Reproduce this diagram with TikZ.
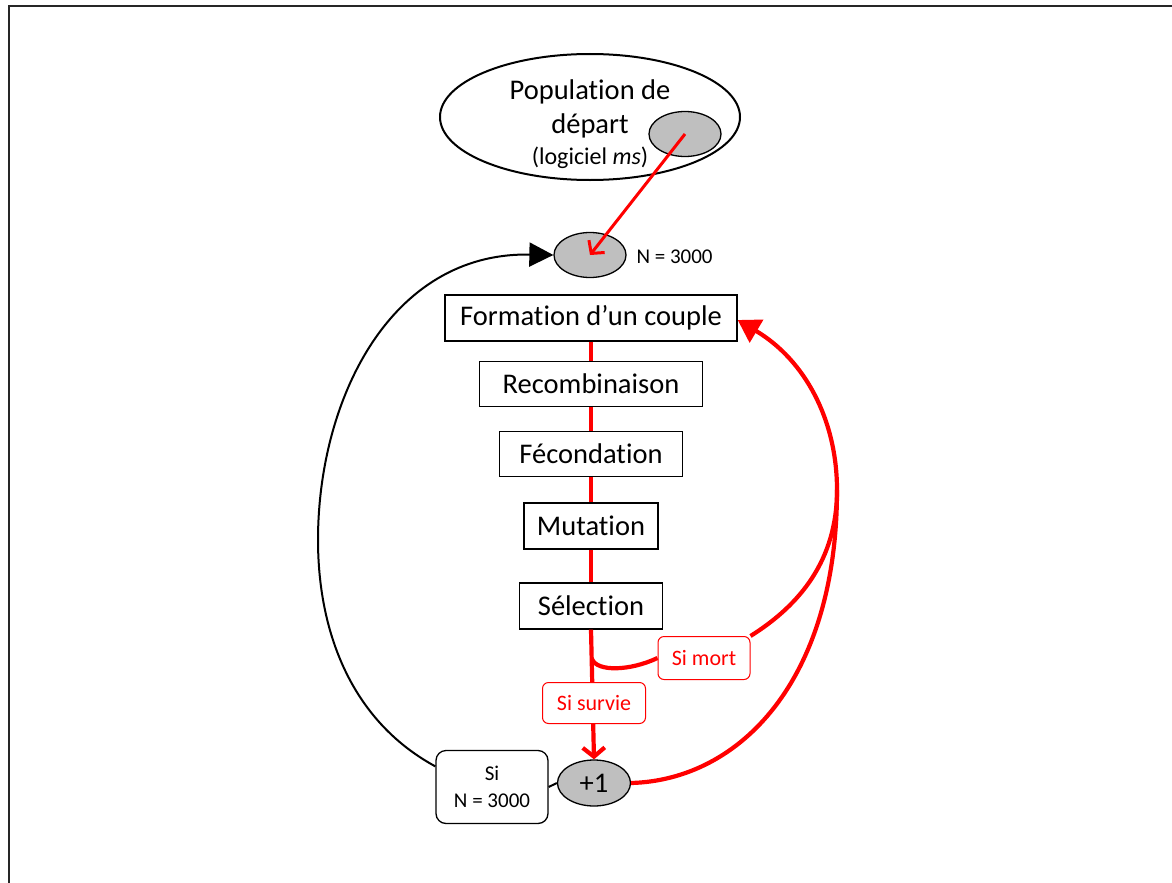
\documentclass[tikz,border=0pt]{standalone}
\usepackage{fontspec}
\setmainfont{Carlito}[RawFeature={-liga;-clig;-calt;-rlig;-dlig}]
\usetikzlibrary{arrows.meta,shapes.geometric,calc}
\begin{document}
\begin{tikzpicture}[x=1pt,y=-1pt,
  stepbox/.style={draw=black, line width=1.3pt, fill=white, inner sep=0pt, font=\fontsize{28.5}{32}\selectfont},
  greyell/.style={ellipse, draw=black, line width=1.3pt, fill=black!25, inner sep=0pt, minimum width=72pt, minimum height=45pt},
  redlab/.style={draw=red, line width=1pt, fill=white, rounded corners=6pt, text=red, inner sep=0pt, font=\fontsize{22}{26}\selectfont},
  redflow/.style={draw=red, line width=4.2pt},
  blackflow/.style={draw=black, line width=2pt}
]
\useasboundingbox (0,0) rectangle (1172,883);
% frame
\draw[line width=2pt, black!85] (9,883) -- (9,6) -- (1172,6);

% starting population
\node[ellipse, draw=black, line width=2pt, fill=white, minimum width=300pt, minimum height=126pt, inner sep=0pt] (pop) at (590,117) {};
\node[align=center, font=\fontsize{28.5}{34}\selectfont] (poptxt) at (590,124) {Population de\\départ\\[-3pt]{\fontsize{24}{28}\selectfont (logiciel \textit{ms})}};
\node[greyell] (ps) at (685,134) {};

% N = 3000 ellipse
\node[greyell] (n) at (590,255) {};
\node[anchor=west, font=\fontsize{21}{25}\selectfont] (nlab) at (633,257) {N = 3000};

% steps
\node[stepbox, minimum width=292pt, minimum height=46pt] (f) at (591,318) {Formation d’un couple};
\node[stepbox, minimum width=223pt, minimum height=45pt] (r) at (591,384) {Recombinaison};
\node[stepbox, minimum width=183pt, minimum height=45pt] (fe) at (591,454) {Fécondation};
\node[stepbox, minimum width=134pt, minimum height=46pt] (m) at (591,526) {Mutation};
\node[stepbox, minimum width=143pt, minimum height=46pt] (s) at (591,606) {Sélection};

% +1 ellipse and condition box
\node[greyell, minimum width=73pt, minimum height=46pt, font=\fontsize{28.5}{32}\selectfont] (p1) at (594,783) {+1};
\node[draw=black, line width=1.3pt, fill=white, rounded corners=10pt, minimum width=112pt, minimum height=73pt, inner sep=0pt, align=center, font=\fontsize{21}{27}\selectfont] (sn) at (492,787) {Si\\N = 3000};

% red connectors between steps
\draw[redflow] (f.south) -- (r.north);
\draw[redflow] (r.south) -- (fe.north);
\draw[redflow] (fe.south) -- (m.north);
\draw[redflow] (m.south) -- (s.north);
\draw[redflow, -{Straight Barb[length=9pt,width=22pt]}] (s.south) -- (p1.north);

% red arrow from initial population
\draw[red, line width=3pt, -{Straight Barb[length=9pt,width=20pt]}] (ps.center) -- (n.center);

% si mort branch
\coordinate (mb) at (592,659);
\coordinate (j) at (837,490);
\node[redlab, minimum width=92pt, minimum height=43pt] (mort) at (704,658) {Si mort};
\draw[redflow] (mb) .. controls (597,672) and (630,671) .. (mort.west);
\draw[redflow] (mort.north east) .. controls (800,605) and (837,560) .. (j);
\draw[redflow] (p1.east) .. controls (740,780) and (837,680) .. (j);
\draw[redflow, -{Triangle[length=22pt,width=26pt]}] (j) .. controls (837,420) and (805,360) .. (f.east |- 0,320) ;

\node[redlab, minimum width=103pt, minimum height=41pt] (surv) at (594,703) {Si survie};

% black loop
\draw[blackflow] (sn.east) -- (p1.west);
\coordinate (lft) at (318,540);
\draw[blackflow, -{Triangle[length=24pt,width=24pt]}] (sn.160) .. controls (350,720) and (318,630) .. (lft) .. controls (318,400) and (390,252) .. (n.west);
\end{tikzpicture}
\end{document}
